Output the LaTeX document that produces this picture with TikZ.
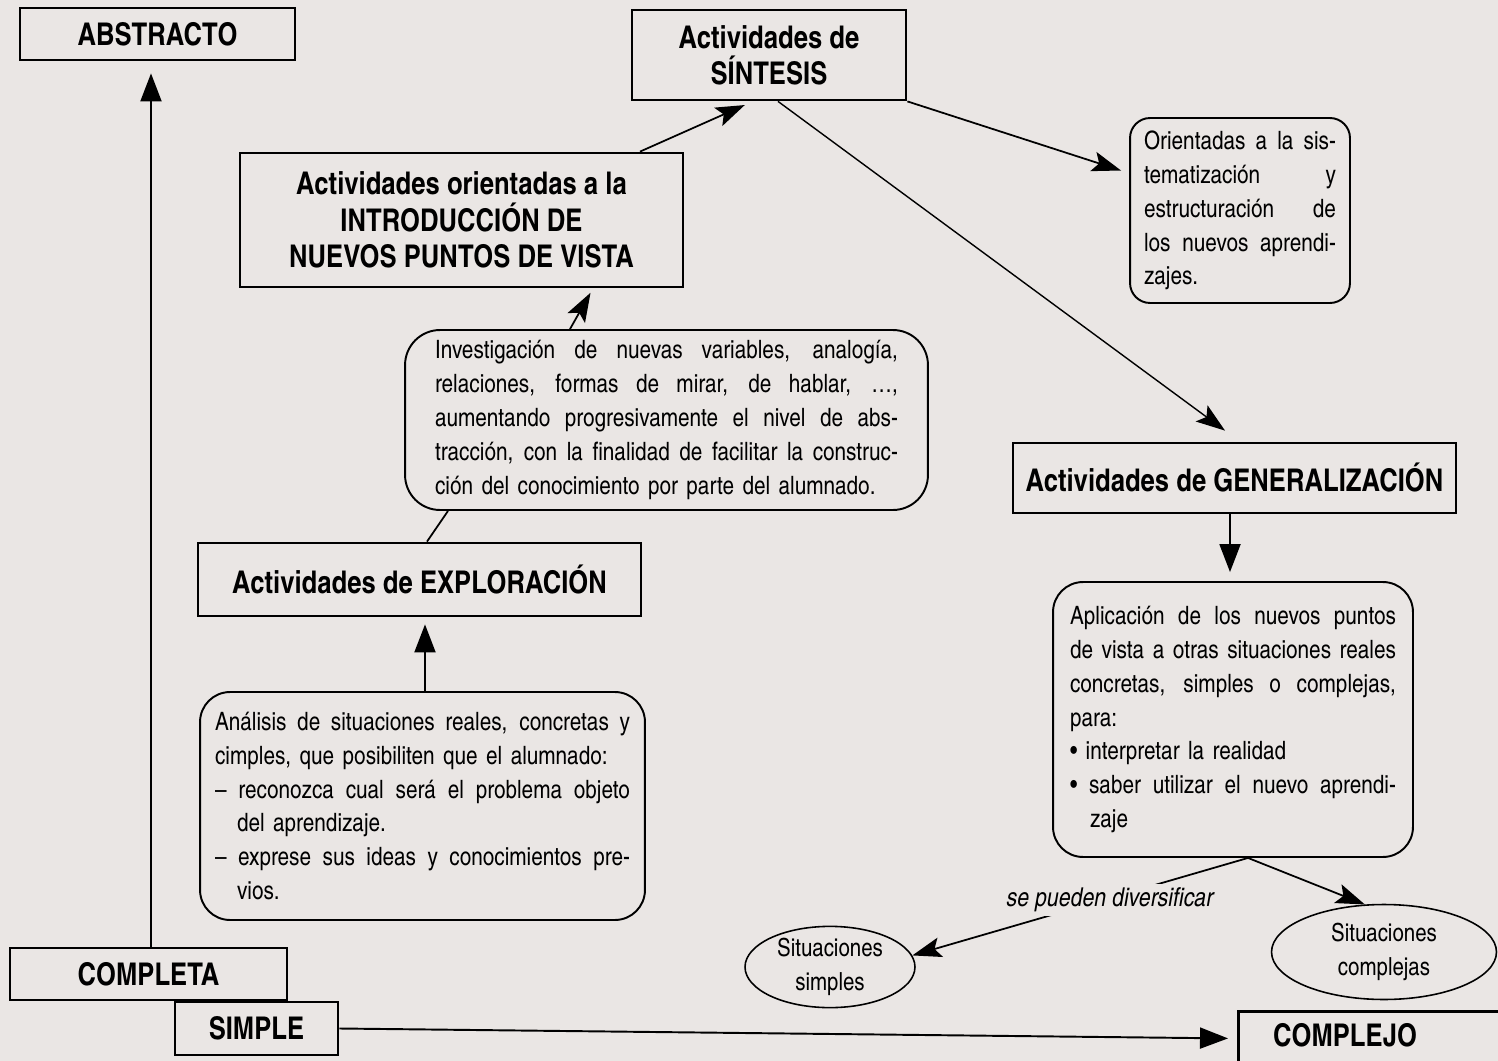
\documentclass[tikz,border=0pt]{standalone}
\usepackage{fontspec}
\setmainfont{texgyreheroscn}[Extension=.otf,UprightFont=*-regular,BoldFont=*-bold,ItalicFont=*-italic,BoldItalicFont=*-bolditalic]
\usetikzlibrary{arrows.meta,shapes.geometric}
\definecolor{paper}{RGB}{234,230,228}
% one justified line of a given width
\newcommand\jl[2]{\leavevmode\hbox to #1{\spaceskip=\fontdimen2\font plus 1fil\relax #2}}
\begin{document}
\begin{tikzpicture}[x=0.02cm,y=-0.02cm,
  hbox/.style={draw,line width=1.6pt,inner sep=0pt,align=center,
    font=\fontsize{17.8}{20.6}\selectfont\bfseries},
  hfont/.style={inner sep=0pt,font=\fontsize{17.8}{20.6}\selectfont\bfseries},
  rbox/.style={draw,line width=1.1pt,inner sep=0pt,align=left,
    font=\fontsize{14.4}{19.3}\selectfont},
  ell/.style={ellipse,draw,line width=0.9pt,inner sep=0pt,align=center,
    font=\fontsize{14.2}{19.3}\selectfont},
  con/.style={line width=1pt},
  arrv/.style={line width=1.1pt,-{Triangle[length=0.56cm,width=0.42cm]}},
  arrd/.style={line width=1pt,-{Stealth[length=0.58cm,width=0.4cm,inset=0.12cm]}}]
\useasboundingbox (0,0) rectangle (1498,1061);
\clip (0,0) rectangle (1498,1061);
\fill[paper] (0,0) rectangle (1498,1061);

% heading boxes
\node[hbox,minimum width=5.5cm,minimum height=1.04cm] (abstracto) at (157.5,34) {ABSTRACTO};
\node[hbox,minimum width=5.48cm,minimum height=1.8cm] (sintesis) at (769,55) {Actividades de\\SÍNTESIS};
\node[hbox,minimum width=8.86cm,minimum height=2.68cm] (intro) at (461.5,220) {Actividades orientadas a la\\INTRODUCCIÓN DE\\NUEVOS PUNTOS DE VISTA};
\node[hbox,minimum width=8.86cm,minimum height=1.46cm] (exploracion) at (419.5,579.5) {Actividades de EXPLORACIÓN};
\node[hbox,minimum width=8.86cm,minimum height=1.4cm] (general) at (1234.5,478) {Actividades de GENERALIZACIÓN};
\node[hbox,minimum width=5.54cm,minimum height=1.04cm] (completa) at (148.5,974) {COMPLETA};
\node[hbox,minimum width=3.26cm,minimum height=1.06cm] (simple) at (256.5,1028.5) {SIMPLE};
\node[hbox,minimum width=5.8cm,minimum height=1.3cm,anchor=north west] (complejo) at (1237,1010) {};
\node[hfont] (complejotxt) at (1345,1035) {COMPLEJO};

% rounded text boxes
\node[rbox,rounded corners=0.4cm,minimum width=4.4cm,minimum height=3.7cm,text width=3.84cm] (orientadas) at (1240,210.5) {%
\jl{3.84cm}{Orientadas a la sis-}\\
\jl{3.84cm}{tematización y}\\
\jl{3.84cm}{estructuración de}\\
\jl{3.84cm}{los nuevos aprendi-}\\
zajes.};

\node[rbox,rounded corners=0.7cm,minimum width=10.46cm,minimum height=3.6cm,text width=9.26cm] (investigacion) at (666.5,420) {%
\jl{9.26cm}{Investigación de nuevas variables, analogía,}\\
\jl{9.26cm}{relaciones, formas de mirar, de hablar, \dots,}\\
\jl{9.26cm}{aumentando progresivamente el nivel de abs-}\\
\jl{9.26cm}{tracción, con la finalidad de facilitar la construc-}\\
ción del conocimiento por parte del alumnado.};

\node[rbox,rounded corners=0.6cm,minimum width=8.9cm,minimum height=4.56cm,text width=8.3cm] (analisis) at (422.5,806) {%
\jl{8.3cm}{Análisis de situaciones reales, concretas y}\\
cimples, que posibiliten que el alumnado:\\
\jl{8.3cm}{– reconozca cual será el problema objeto}\\
\hspace*{0.44cm}del aprendizaje.\\
\jl{8.3cm}{– exprese sus ideas y conocimientos pre-}\\
\hspace*{0.44cm}vios.};

\node[rbox,rounded corners=0.6cm,minimum width=7.2cm,minimum height=5.5cm,text width=6.52cm] (aplicacion) at (1233,719.5) {%
\jl{6.52cm}{Aplicación de los nuevos puntos}\\
\jl{6.52cm}{de vista a otras situaciones reales}\\
\jl{6.52cm}{concretas, simples o complejas,}\\
para:\\
\textbullet\ interpretar la realidad\\
\jl{6.52cm}{\textbullet\ saber utilizar el nuevo aprendi-}\\
\hspace*{0.4cm}zaje};

% ellipses
\node[ell,minimum width=3.4cm,minimum height=1.5cm] (simples) at (830,967) {Situaciones\\simples};
\node[ell,minimum width=4.5cm,minimum height=1.9cm] (complejas) at (1384,952) {Situaciones\\complejas};

% helper x positions
\coordinate (vx) at (151,0);
\coordinate (ax) at (425,0);
\coordinate (e1) at (427,0);
\coordinate (e2) at (448,0);
\coordinate (i1) at (570,0);
\coordinate (i2) at (593,0);
\coordinate (f1) at (640,0);
\coordinate (f2) at (753,0);
\coordinate (g1) at (778,0);
\coordinate (gx) at (1230,0);

% connectors
\draw[arrv,shorten >=0.24cm] (completa.north -| vx) -- (abstracto.south -| vx);
\draw[arrv] (simple.east) -- ([xshift=-0.18cm,yshift=0.11cm]complejo.west);
\draw[arrv,shorten >=0.14cm] (analisis.north -| ax) -- (exploracion.south -| ax);
\draw[con] (exploracion.north -| e1) -- (investigacion.south -| e2);
\draw[arrd,shorten >=0.1cm] (investigacion.north -| i1) -- (intro.south -| i2);
\draw[arrd,shorten >=0.18cm] (intro.north -| f1) -- (sintesis.south -| f2);
\draw[arrd,line width=0.8pt] (sintesis.south -| g1) -- ([xshift=-0.19cm,yshift=0.22cm]general.north);
\draw[arrd] (sintesis.south east) -- ([xshift=-0.16cm,yshift=0.8cm]orientadas.west);
\draw[arrv,shorten >=0.18cm] (general.south -| gx) -- (aplicacion.north -| gx);
\coordinate (ap) at ([xshift=0.3cm]aplicacion.south);
\draw[arrd] (ap) -- (simples.8);
\draw[arrd] (ap) -- (complejas.112);
\node[fill=paper,inner sep=2pt,font=\fontsize{14.8}{16}\selectfont\itshape] (div) at (1110,900) {se pueden diversificar};
\end{tikzpicture}
\end{document}
